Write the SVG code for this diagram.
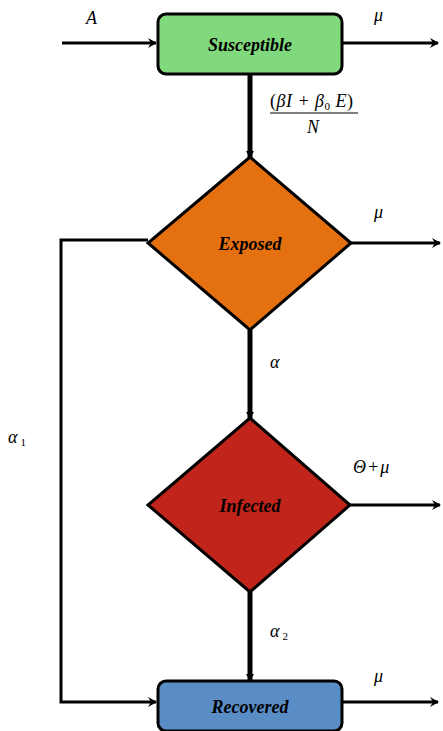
<svg xmlns="http://www.w3.org/2000/svg" width="443" height="731" viewBox="0 0 443 731">
<style>
.node{stroke:#000;stroke-width:3}
.lbl{font-family:"Liberation Serif",serif;font-weight:bold;font-style:italic;font-size:18px;text-anchor:middle;fill:#000}
.m{font-family:"Liberation Serif",serif;font-style:italic;font-size:18px;fill:#000}
.sub{font-size:11px;font-style:normal}
.thin{stroke:#000;stroke-width:3;fill:none}
.thick{stroke:#000;stroke-width:5;fill:none}
</style>
<defs>
<marker id="ah" markerWidth="10" markerHeight="10" refX="8" refY="5" orient="auto" markerUnits="userSpaceOnUse">
<path d="M0,0 L9,5 L0,10 L3,5 Z" fill="#000"/>
</marker>
<marker id="ad" markerWidth="8" markerHeight="8" refX="6" refY="4" orient="auto" markerUnits="userSpaceOnUse">
<path d="M0,0 L7,4 L0,8 Z" fill="#000"/>
</marker>
</defs>
<g id="connectors">
<line class="thin" x1="62" y1="43" x2="156" y2="43" marker-end="url(#ah)"/>
<line class="thin" x1="343" y1="43" x2="438" y2="43" marker-end="url(#ah)"/>
<line class="thick" x1="250" y1="75" x2="250" y2="157" marker-end="url(#ad)"/>
<line class="thin" x1="351" y1="243" x2="440" y2="243" marker-end="url(#ah)"/>
<line class="thick" x1="250" y1="330" x2="250" y2="418" marker-end="url(#ad)"/>
<line class="thin" x1="350" y1="505" x2="440" y2="505" marker-end="url(#ah)"/>
<line class="thick" x1="250" y1="592" x2="250" y2="680" marker-end="url(#ad)"/>
<line class="thin" x1="343" y1="702" x2="438" y2="702" marker-end="url(#ah)"/>
<polyline class="thin" points="148,240 61,240 61,702 156,702" marker-end="url(#ah)"/>
</g>
<g id="susceptible">
<rect class="node" x="158" y="14" width="184" height="60" rx="8" fill="#81D97D"/>
<text class="lbl" x="250" y="51">Susceptible</text>
</g>
<g id="exposed">
<polygon class="node" points="250,157 351,243 250,330 148,243" fill="#E4700F"/>
<text class="lbl" x="250" y="250">Exposed</text>
</g>
<g id="infected">
<polygon class="node" points="250,418 350,505 250,592 148,505" fill="#C0241A"/>
<text class="lbl" x="250" y="512">Infected</text>
</g>
<g id="recovered">
<rect class="node" x="158" y="681" width="184" height="50" rx="8" fill="#5A8DC6"/>
<text class="lbl" x="250" y="713">Recovered</text>
</g>
<g id="labels">
<text class="m" x="86" y="24">A</text>
<text class="m" x="374" y="21">μ</text>
<text class="m" x="270" y="107" letter-spacing="0.5"><tspan font-style="normal">(</tspan>βI + β<tspan class="sub" dy="3">0</tspan><tspan dy="-3"> E<tspan font-style="normal">)</tspan></tspan></text>
<line x1="270" y1="113" x2="358" y2="113" stroke="#000" stroke-width="1.2"/>
<text class="m" x="307" y="133">N</text>
<text class="m" x="374" y="218">μ</text>
<text class="m" x="270" y="368">α</text>
<text class="m" x="8" y="443">α<tspan class="sub" dx="3" dy="3">1</tspan></text>
<text class="m" x="353" y="473" letter-spacing="1">Θ+μ</text>
<text class="m" x="270" y="637">α<tspan class="sub" dx="3" dy="3">2</tspan></text>
<text class="m" x="374" y="682">μ</text>
</g>
</svg>
